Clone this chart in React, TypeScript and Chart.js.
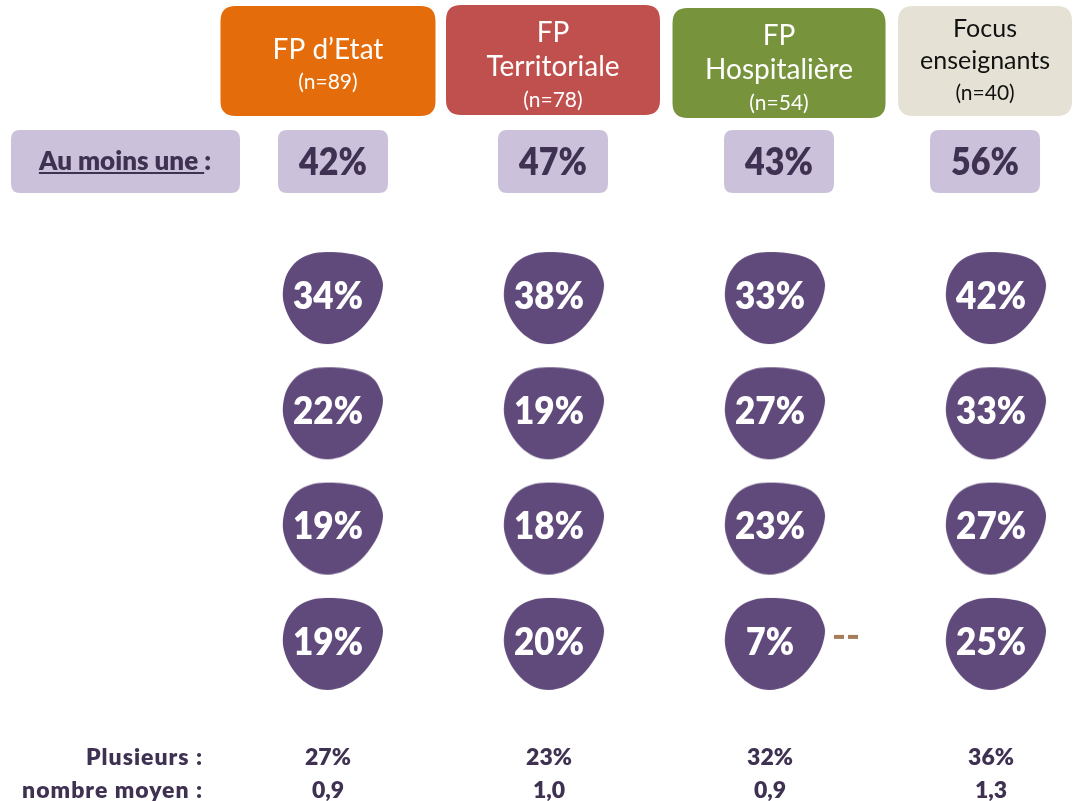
import React, { useEffect, useRef } from "react";
import { Chart, registerables } from "chart.js";

Chart.register(...registerables);

// ---------- data ----------
const groupTitles = [["FP d’Etat"], ["FP", "Territoriale"], ["FP", "Hospitalière"], ["Focus", "enseignants"]];
const sampleSizes = [89, 78, 54, 40];
const groupColors = ["#E46C0A", "#C0504D", "#77933C", "#E6E1D5"];
const groupTextColors = ["#FFFFFF", "#FFFFFF", "#FFFFFF", "#111111"];
const auMoinsUneLabel = "Au moins une";
const auMoinsUne = [42, 47, 43, 56];
const etatValues = [34, 22, 19, 19];
const territorialeValues = [38, 19, 18, 20];
const hospitaliereValues = [33, 27, 23, 7];
const enseignantsValues = [42, 33, 27, 25];
const plusieursLabel = "Plusieurs :";
const plusieurs = [27, 23, 32, 36];
const nombreMoyenLabel = "nombre moyen :";
const nombreMoyen = [0.9, 1.0, 0.9, 1.3];
const missingMarks = [{ col: 2, row: 3, text: "--" }];

// ---------- style ----------
const FONT = "Lato, 'Open Sans', sans-serif";
const BLOB_COLOR = "#604A7B";
const LIGHT_PURPLE = "#CCC1DA";
const DARK_PURPLE = "#3F3151";

function makeBlob(): HTMLCanvasElement {
  const c = document.createElement("canvas");
  c.width = 112;
  c.height = 100;
  const ctx = c.getContext("2d")!;
  const ox = 11, oy = 7;
  const pts = [
    [43, 0], [62, 1], [80, 5], [91, 12], [97, 22], [100, 33], [97, 48], [90, 62],
    [78, 77], [62, 88], [45, 92], [30, 89], [17, 80], [7, 67], [1, 52], [0, 38],
    [4, 22], [14, 9], [28, 2],
  ].map(([x, y]) => [x + ox, y + oy]);
  const n = pts.length;
  ctx.beginPath();
  ctx.moveTo(pts[0][0], pts[0][1]);
  for (let i = 0; i < n; i++) {
    const p0 = pts[(i - 1 + n) % n];
    const p1 = pts[i];
    const p2 = pts[(i + 1) % n];
    const p3 = pts[(i + 2) % n];
    const c1x = p1[0] + (p2[0] - p0[0]) / 6;
    const c1y = p1[1] + (p2[1] - p0[1]) / 6;
    const c2x = p2[0] - (p3[0] - p1[0]) / 6;
    const c2y = p2[1] - (p3[1] - p1[1]) / 6;
    ctx.bezierCurveTo(c1x, c1y, c2x, c2y, p2[0], p2[1]);
  }
  ctx.closePath();
  ctx.fillStyle = BLOB_COLOR;
  ctx.fill();
  return c;
}

function roundRect(ctx: CanvasRenderingContext2D, x: number, y: number, w: number, h: number, r: number, fill: string) {
  ctx.beginPath();
  ctx.moveTo(x + r, y);
  ctx.lineTo(x + w - r, y);
  ctx.quadraticCurveTo(x + w, y, x + w, y + r);
  ctx.lineTo(x + w, y + h - r);
  ctx.quadraticCurveTo(x + w, y + h, x + w - r, y + h);
  ctx.lineTo(x + r, y + h);
  ctx.quadraticCurveTo(x, y + h, x, y + h - r);
  ctx.lineTo(x, y + r);
  ctx.quadraticCurveTo(x, y, x + r, y);
  ctx.closePath();
  ctx.fillStyle = fill;
  ctx.fill();
}

function text(
  ctx: CanvasRenderingContext2D, s: string, x: number, yCenter: number, size: number,
  color: string, bold = false, align: CanvasTextAlign = "center", maxWidth?: number, spacing = 0
) {
  ctx.font = `${bold ? "800 " : ""}${size}px ${FONT}`;
  ctx.fillStyle = color;
  ctx.textAlign = align;
  ctx.textBaseline = "alphabetic";
  (ctx as any).letterSpacing = `${spacing}px`;
  const y = yCenter + size * 0.36;
  if (maxWidth) ctx.fillText(s, x, y, maxWidth);
  else ctx.fillText(s, x, y);
  (ctx as any).letterSpacing = "0px";
}

const fmtComma = (v: number) => v.toFixed(1).replace(".", ",");

export default function App() {
  const ref = useRef<HTMLCanvasElement>(null);

  useEffect(() => {
    document.body.style.margin = "0";
    document.body.style.overflow = "hidden";
    const blob = makeBlob();
    const columns = [etatValues, territorialeValues, hospitaliereValues, enseignantsValues];
    const datasets = columns.map((vals, col) => ({
      label: groupTitles[col].join(" "),
      data: vals.map((v, row) => ({ x: col, y: row, v })),
      pointStyle: blob as any,
      pointRadius: 10,
      pointHoverRadius: 10,
    }));

    const boxShift = [0, 4, 9, -6];
    const pctShift = [5, 4, 9, -6];
    const boxTops = [6, 5, 8, 6];
    const headerWidths = [215, 214, 213, 174];

    const infographic = {
      id: "infographic",
      beforeDatasetsDraw(chart: any) {
        const ctx: CanvasRenderingContext2D = chart.ctx;
        const xs = chart.scales.x;
        ctx.save();
        // header boxes
        groupTitles.forEach((lines, col) => {
          const cx = xs.getPixelForValue(col) + boxShift[col];
          const w = headerWidths[col];
          const top = boxTops[col];
          roundRect(ctx, cx - w / 2, top, w, 110, 15, groupColors[col]);
          const isFocus = col === 3;
          const size = isFocus ? 25 : 28;
          const gap = isFocus ? 32 : 34;
          const first = lines.length === 1 ? top + 43 : top + (isFocus ? 22 : 27);
          lines.forEach((ln, i) => text(ctx, ln, cx, first + i * gap, size, groupTextColors[col]));
          const ny = lines.length === 1 ? top + 75 : first + 2 * gap - (isFocus ? 0 : 1);
          text(ctx, `(n=${sampleSizes[col]})`, cx, ny, 21, groupTextColors[col]);
        });
        // "Au moins une" row
        roundRect(ctx, 11, 130, 229, 63, 9, LIGHT_PURPLE);
        ctx.font = `800 26px ${FONT}`;
        const lbl = auMoinsUneLabel + " ";
        const full = lbl + ":";
        const fw = ctx.measureText(full).width;
        const lw = ctx.measureText(lbl).width;
        const sx = 125 - fw / 2;
        text(ctx, full, sx, 161, 26, DARK_PURPLE, true, "left");
        ctx.fillStyle = DARK_PURPLE;
        ctx.fillRect(sx, 172, lw, 2);
        auMoinsUne.forEach((v, col) => {
          const cx = xs.getPixelForValue(col) + pctShift[col];
          roundRect(ctx, cx - 55, 130, 110, 63, 9, LIGHT_PURPLE);
          text(ctx, `${v}%`, cx, 162, 37, DARK_PURPLE, true, "center", 68);
        });
        ctx.restore();
      },
      afterDatasetsDraw(chart: any) {
        const ctx: CanvasRenderingContext2D = chart.ctx;
        const xs = chart.scales.x;
        const ys = chart.scales.y;
        ctx.save();
        chart.data.datasets.forEach((ds: any, di: number) => {
          const meta = chart.getDatasetMeta(di);
          meta.data.forEach((pt: any, i: number) => {
            const v = ds.data[i].v;
            const s = `${v}%`;
            text(ctx, s, pt.x, pt.y, 38, "#FFFFFF", true, "center", s.length > 2 ? 70 : 48);
          });
        });
        missingMarks.forEach((m) => {
          const x = xs.getPixelForValue(m.col) + 76;
          const y = ys.getPixelForValue(m.row) - 4;
          ctx.fillStyle = "#A67C5B";
          ctx.fillRect(x - 12, y - 2, 10, 4);
          ctx.fillRect(x + 2, y - 2, 10, 4);
        });
        // bottom rows
        text(ctx, plusieursLabel, 203, 757, 23, DARK_PURPLE, true, "right", undefined, 1);
        text(ctx, nombreMoyenLabel, 203, 790, 23, DARK_PURPLE, true, "right", undefined, 1);
        plusieurs.forEach((v, col) => {
          const cx = xs.getPixelForValue(col);
          text(ctx, `${v}%`, cx, 757, 23, DARK_PURPLE, true);
          text(ctx, fmtComma(nombreMoyen[col]), cx, 790, 23, DARK_PURPLE, true);
        });
        ctx.restore();
      },
    };

    const chart = new Chart(ref.current!, {
      type: "scatter",
      data: { datasets: datasets as any },
      options: {
        responsive: false,
        animation: false,
        devicePixelRatio: 1,
        layout: { padding: 0, autoPadding: false },
        plugins: { legend: { display: false }, tooltip: { enabled: false } },
        events: [],
        scales: {
          x: { type: "linear", display: false, min: -1.484, max: 3.398 },
          y: { type: "linear", display: false, reverse: true, min: -2.5586, max: 4.3885 },
        },
      },
      plugins: [infographic],
    });
    return () => chart.destroy();
  }, []);

  return <canvas ref={ref} width={1079} height={801} style={{ display: "block" }} />;
}
